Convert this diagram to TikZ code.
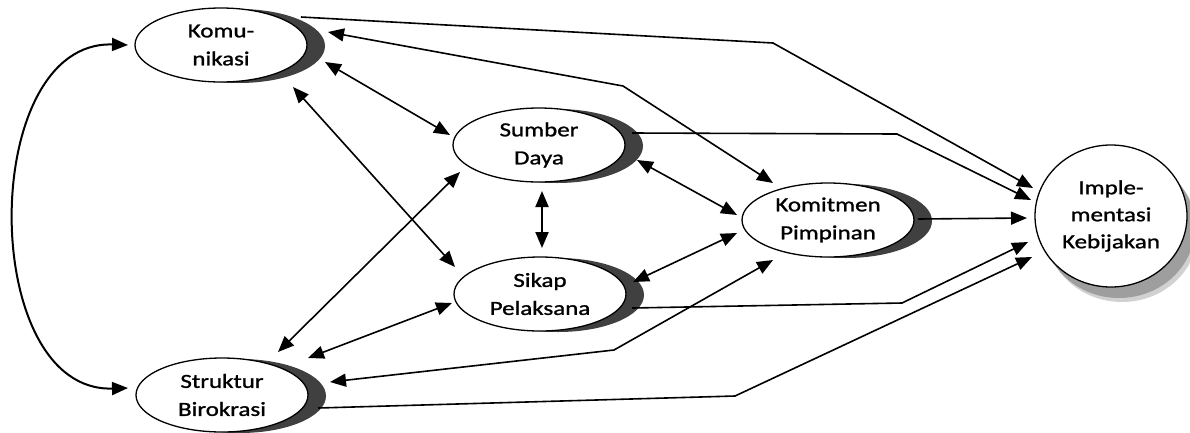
\documentclass[tikz,border=0pt]{standalone}
\usepackage{fontspec}
\setmainfont{Carlito}[FakeStretch=1.25,FakeBold=1.2]
\usetikzlibrary{arrows.meta,shapes.geometric,shadows}
\tikzset{
  ov/.style={ellipse, draw, line width=1.3pt, fill=white, inner sep=0pt,
    minimum width=172pt, minimum height=74pt, align=center,
    font=\fontsize{20}{28}\selectfont,
    general shadow={fill=black!75, shadow xshift=18pt, shadow yshift=-1pt}},
  bigov/.style={ellipse, draw, line width=1.3pt, fill=white, inner sep=0pt,
    minimum width=152pt, minimum height=142pt, align=center,
    font=\fontsize{20}{27}\selectfont,
    general shadow={fill=black!18, shadow xshift=11pt, shadow yshift=-15pt},
    general shadow={fill=black!38, shadow xshift=8pt, shadow yshift=-11pt}},
  conn/.style={line width=1.6pt, -{Triangle[length=16pt,width=13pt]}},
  bi/.style={line width=1.6pt, {Triangle[length=16pt,width=13pt]}-{Triangle[length=16pt,width=13pt]}},
}
\begin{document}
\begin{tikzpicture}[x=1pt,y=-1pt]
\useasboundingbox (0,0) rectangle (1190,432);
\node[ov] (komu) at (221,45) {Komu-\\nikasi};
\node[ov] (sumb) at (539,145) {Sumber\\Daya};
\node[ov] (sika) at (540,294) {Sikap\\Pelaksana};
\node[ov] (komi) at (828,220) {Komitmen\\Pimpinan};
\node[ov] (stru) at (222,395) {Struktur\\Birokrasi};
\node[bigov] (impl) at (1111,216) {Imple-\\mentasi\\Kebijakan};
\coordinate (b1) at (773,43);
\coordinate (b2) at (623,86);
\coordinate (b3) at (897,134);
\coordinate (b4) at (902,303);
\coordinate (b5) at (614,350);
\coordinate (b6) at (735,396);
% left arc
\draw[bi, line width=2pt] ([shift={(-93,0)}]komu.center) .. controls +(-150,-5) and +(-150,5) .. ([shift={(-94,-7)}]stru.center);
% Komunikasi -> Implementasi
\draw[conn] ([shift={(80,-28)}]komu.center) -- (b1) -- ([shift={(-78,-28)}]impl.center);
% Komunikasi <-> Komitmen
\draw[bi] ([shift={(107,-13)}]komu.center) -- (b2) -- ([shift={(-55,-37)}]komi.center);
% Komunikasi <-> Sumber
\draw[bi] ([shift={(104,17)}]komu.center) -- ([shift={(-89,-10)}]sumb.center);
% Komunikasi <-> Sikap
\draw[bi] ([shift={(72,42)}]komu.center) -- ([shift={(-85,-27)}]sika.center);
% Sumber -> Implementasi
\draw[conn] ([shift={(93,-12)}]sumb.center) -- (b3) -- ([shift={(-80,-16)}]impl.center);
% Sumber <-> Komitmen
\draw[bi] ([shift={(98,15)}]sumb.center) -- ([shift={(-91,-5)}]komi.center);
% Sumber <-> Sikap
\draw[bi, line width=2pt] ([shift={(3,46)}]sumb.center) -- ([shift={(2,-46)}]sika.center);
% Sumber <-> Struktur
\draw[bi] ([shift={(-79,27)}]sumb.center) -- ([shift={(56,-43)}]stru.center);
% Sikap <-> Komitmen
\draw[bi] ([shift={(-91,13)}]komi.center) -- ([shift={(93,-12)}]sika.center);
% Sikap <-> Struktur
\draw[bi] ([shift={(-88,9)}]sika.center) -- ([shift={(86,-37)}]stru.center);
% Sikap -> Implementasi
\draw[conn] ([shift={(92,14)}]sika.center) -- (b4) -- ([shift={(-83,26)}]impl.center);
% Komitmen -> Implementasi
\draw[conn] ([shift={(90,-1)}]komi.center) -- ([shift={(-84,2)}]impl.center);
% Komitmen <-> Struktur
\draw[bi] ([shift={(-55,40)}]komi.center) -- (b5) -- ([shift={(108,-13)}]stru.center);
% Struktur -> Implementasi
\draw[conn] ([shift={(96,13)}]stru.center) -- (b6) -- ([shift={(-79,41)}]impl.center);
\end{tikzpicture}
\end{document}
